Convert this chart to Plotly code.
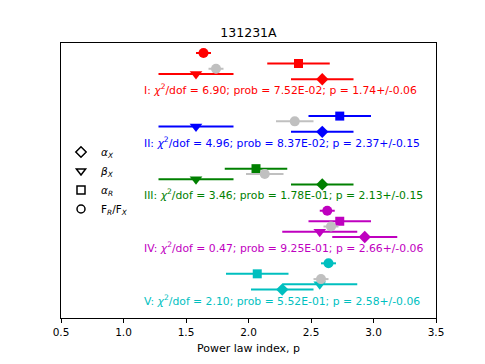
import plotly.graph_objects as go

# burst and interval labels
title = "131231A"
seg = ["I", "II", "III", "IV", "V"]
cols = ["#ff0000", "#0000ff", "#008000", "#bf00bf", "#00bfbf"]

# power law index estimates per segment
alpha_x = [2.59, 2.59, 2.59, 2.93, 2.27]
alpha_x_err = [0.25, 0.25, 0.25, 0.26, 0.25]
beta_x = [1.58, 1.58, 1.58, 2.57, 2.57]
beta_x_err = [0.30, 0.30, 0.30, 0.30, 0.30]
alpha_r = [2.40, 2.73, 2.06, 2.73, 2.07]
alpha_r_err = [0.25, 0.25, 0.25, 0.25, 0.25]
frfx = [1.64, None, None, 2.63, 2.64]
frfx_err = [0.06, None, None, 0.06, 0.06]

# combined fit
p_fit = [1.74, 2.37, 2.13, 2.66, 2.58]
p_err = [0.06, 0.15, 0.15, 0.06, 0.06]
chi2 = [6.90, 4.96, 3.46, 0.47, 2.10]
prob = ["7.52E-02", "8.37E-02", "1.78E-01", "9.25E-01", "5.52E-01"]

# row layout inside each segment block
step = 10
row = {"frfx": 0, "alpha_r": 2, "p": 3, "beta_x": 4, "alpha_x": 5, "text": 7}

FONT = "DejaVu Sans"
fig = go.Figure()


def add_pts(vals, errs, key, sym, size, color_list):
    for i in range(len(seg)):
        if vals[i] is None:
            continue
        fig.add_trace(go.Scatter(
            x=[vals[i]], y=[i * step + row[key]], mode="markers",
            marker=dict(symbol=sym, size=size, color=color_list[i], line=dict(width=0)),
            error_x=dict(type="data", array=[errs[i]], color=color_list[i], thickness=2, width=0),
            showlegend=False, hoverinfo="skip"))


add_pts(frfx, frfx_err, "frfx", "circle", 10, cols)
add_pts(alpha_r, alpha_r_err, "alpha_r", "square", 9, cols)
add_pts(beta_x, beta_x_err, "beta_x", "triangle-down", 11, cols)
add_pts(p_fit, p_err, "p", "circle", 10, ["#c0c0c0"] * 5)
add_pts(alpha_x, alpha_x_err, "alpha_x", "diamond", 9.5, cols)

for i in range(len(seg)):
    txt = (f"{seg[i]}: <i>χ</i><sup>2</sup>/dof = {chi2[i]:.2f}; prob = {prob[i]}; "
           f"p = {p_fit[i]:.2f}+/-{p_err[i]:.2f}")
    fig.add_annotation(x=1.15, y=i * step + row["text"], text=txt, showarrow=False,
                       xanchor="left", yanchor="middle",
                       font=dict(family=FONT, size=10.8, color=cols[i]))

# legend entries (open black markers)
leg = [("diamond-open", "<i>α</i><sub><i>X</i></sub>"),
       ("triangle-down-open", "<i>β</i><sub><i>X</i></sub>"),
       ("square-open", "<i>α</i><sub><i>R</i></sub>"),
       ("circle-open", "F<sub><i>R</i></sub>/F<sub><i>X</i></sub>")]
for sym, name in leg:
    fig.add_trace(go.Scatter(x=[None], y=[None], mode="markers", name=name,
                             marker=dict(symbol=sym, size=8, color="black",
                                         line=dict(width=1.5, color="black"))))

# page body has an 8px margin, so the figure is shrunk by that amount
fig.update_layout(
    width=477, height=356,
    margin=dict(l=53, r=49, t=35, b=44),
    paper_bgcolor="white", plot_bgcolor="white",
    font=dict(family=FONT, size=10.5, color="black"),
    title=dict(text=title, x=0.5, xref="paper", xanchor="center",
               y=1 - 25 / 356, yanchor="middle", font=dict(size=12.5)),
    legend=dict(x=0.0, xanchor="left", y=0.5, yanchor="middle",
                bgcolor="rgba(0,0,0,0)", font=dict(size=10.5),
                itemwidth=30, tracegroupgap=0),
    showlegend=True,
)
fig.update_xaxes(range=[0.5, 3.5], tickvals=[0.5, 1.0, 1.5, 2.0, 2.5, 3.0, 3.5],
                 ticktext=["0.5", "1.0", "1.5", "2.0", "2.5", "3.0", "3.5"],
                 ticks="outside", ticklen=4, tickcolor="black",
                 showline=True, linecolor="black", linewidth=1, mirror=True,
                 showgrid=False, zeroline=False,
                 title=dict(text="Power law index, p", standoff=7, font=dict(size=11)))
fig.update_yaxes(range=[50.4, -1.9], showticklabels=False, ticks="",
                 showline=True, linecolor="black", linewidth=1, mirror=True,
                 showgrid=False, zeroline=False)

fig.write_html("out.html")
